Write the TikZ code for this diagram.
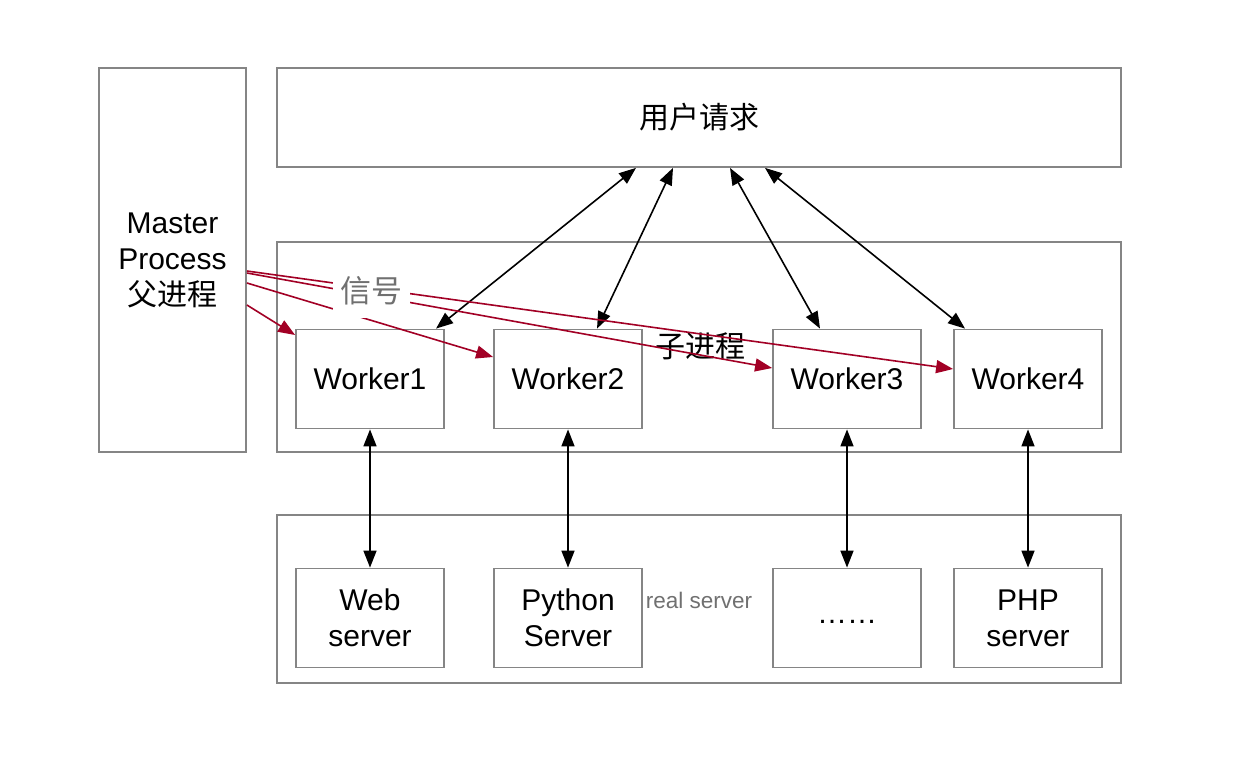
\documentclass[tikz,border=0pt]{standalone}
\usepackage{fontspec}
\setmainfont{Liberation Sans}
\newfontfamily\cjk{Noto Sans CJK SC}
\usetikzlibrary{arrows.meta}
\definecolor{boxgray}{HTML}{858585}
\definecolor{sigred}{HTML}{A20025}
\definecolor{labgray}{HTML}{707070}
\tikzset{
  box/.style={draw=boxgray, line width=1.8pt, fill=white, align=center, inner sep=0pt, font=\fontsize{30}{36}\selectfont},
  wbox/.style={box, minimum width=148pt, minimum height=99pt},
  biarrow/.style={line width=1.6pt, {Stealth[length=17pt,width=13pt,inset=0pt]}-{Stealth[length=17pt,width=13pt,inset=0pt]}},
  sigarrow/.style={draw=sigred, line width=1.6pt, -{Stealth[length=17pt,width=13pt,inset=0pt]}, color=sigred},
}
\begin{document}
\begin{tikzpicture}[x=1pt,y=-1pt]
\useasboundingbox[fill=white] (0,0) rectangle (1246,762);
% containers
\node[box, minimum width=147pt, minimum height=384pt] (master) at (172.5,260) {Master\\Process\\{\cjk 父进程}};
\node[box, minimum width=844pt, minimum height=99pt] (user) at (699,117.5) {\cjk 用户请求};
\node[box, minimum width=844pt, minimum height=210pt] (mid) at (699,347) {};
\node[box, minimum width=844pt, minimum height=168pt] (bot) at (699,599) {};
% workers
\node[wbox] (w1) at (370,379) {\raisebox{-3pt}{Worker1}};
\node[wbox] (w2) at (568,379) {\raisebox{-3pt}{Worker2}};
\node[wbox] (w3) at (847,379) {\raisebox{-3pt}{Worker3}};
\node[wbox] (w4) at (1028,379) {\raisebox{-3pt}{Worker4}};
% servers
\node[wbox] (s1) at (370,618) {Web\\server};
\node[wbox] (s2) at (568,618) {Python\\Server};
\node[wbox] (s3) at (847,618) {\raisebox{-10pt}{……}};
\node[wbox] (s4) at (1028,618) {PHP\\server};
% labels
\node[font=\fontsize{30}{36}\selectfont\cjk] (sub) at (700,346) {子进程};
\node[font=\fontsize{22.5}{26}\selectfont, text=labgray] (real) at (699,600) {real server};
% user <-> workers
\draw[biarrow] ([xshift=-63pt]user.south) -- ([xshift=66pt]w1.north);
\draw[biarrow] ([xshift=-26pt]user.south) -- ([xshift=29pt]w2.north);
\draw[biarrow] ([xshift=31pt]user.south) -- ([xshift=-27pt]w3.north);
\draw[biarrow] ([xshift=66pt]user.south) -- ([xshift=-63pt]w4.north);
% workers <-> servers
\draw[biarrow] (w1.south) -- (s1.north);
\draw[biarrow] (w2.south) -- (s2.north);
\draw[biarrow] (w3.south) -- (s3.north);
\draw[biarrow] (w4.south) -- (s4.north);
% signals
\draw[sigarrow] ([yshift=-11pt]master.east) -- ([yshift=10pt]w4.west);
\draw[sigarrow] ([yshift=-13pt]master.east) -- ([yshift=11pt]w3.west);
\draw[sigarrow] ([yshift=-23pt]master.east) -- ([yshift=22pt]w2.west);
\draw[sigarrow] ([yshift=-45pt]master.east) -- ([yshift=44pt]w1.west);
\node[fill=white, minimum width=77pt, minimum height=54pt, inner sep=0pt, text=labgray, font=\fontsize{31}{34}\selectfont\cjk] (sig) at (371.5,291) {信号};
\end{tikzpicture}
\end{document}
